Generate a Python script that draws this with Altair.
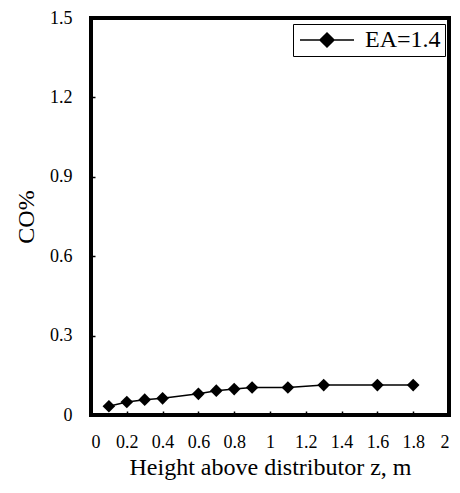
import altair as alt
import pandas as pd

z = [0.1, 0.2, 0.3, 0.4, 0.6, 0.7, 0.8, 0.9, 1.1, 1.3, 1.6, 1.8]
co = [0.033, 0.049, 0.058, 0.063, 0.080, 0.092, 0.098, 0.104, 0.104, 0.113, 0.113, 0.113]
series = ["EA=1.4"] * len(z)
x_ticks = [0, 0.2, 0.4, 0.6, 0.8, 1.0, 1.2, 1.4, 1.6, 1.8, 2.0]
y_ticks = [0, 0.3, 0.6, 0.9, 1.2, 1.5]

df = pd.DataFrame({"z": z, "co": co, "series": series})
FONT = "Liberation Serif"

# legend symbol: line with a diamond in the middle (unit path)
sym = "M-1,0H1.22M2,-0.78L2.78,0L2,0.78L1.22,0ZM2.78,0H5"

base = alt.Chart(df).encode(
    x=alt.X("z:Q",
            scale=alt.Scale(domain=[0, 2], nice=False, zero=False),
            axis=alt.Axis(values=x_ticks, format="~g", title="Height above distributor z, m",
                          offset=-4, tickSize=4, tickColor="black", tickWidth=1.5,
                          domain=False, grid=False, labelPadding=18,
                          labelFont=FONT, labelFontSize=18, labelColor="black",
                          titleFont=FONT, titleFontSize=24, titleFontWeight="normal",
                          titleColor="black", titleY=63, titleBaseline="alphabetic")),
    y=alt.Y("co:Q",
            scale=alt.Scale(domain=[0, 1.5], nice=False, zero=False),
            axis=alt.Axis(values=y_ticks, format="~g", title="CO%",
                          offset=-4, tickSize=4, tickColor="black", tickWidth=1.5,
                          domain=False, grid=False, labelPadding=19,
                          labelFont=FONT, labelFontSize=18, labelColor="black",
                          titleFont=FONT, titleFontSize=24, titleFontWeight="normal",
                          titleColor="black", titleX=-62, titleY=198.5,
                          titleBaseline="alphabetic", titleAlign="center", titleAngle=270)),
    color=alt.Color("series:N", scale=alt.Scale(range=["black"]),
                    legend=alt.Legend(title=None, orient="none", legendX=202, legendY=6,
                                      strokeColor="black", fillColor="white", padding=4,
                                      cornerRadius=0,
                                      symbolType=sym, symbolSize=324,
                                      symbolFillColor="black", symbolStrokeColor="black",
                                      symbolStrokeWidth=1.5, labelOffset=44,
                                      labelFont=FONT, labelFontSize=24, labelColor="black")),
)

line = base.mark_line(strokeWidth=1.5)
pts = base.mark_point(shape="diamond", filled=True, size=160, opacity=1)

chart = alt.layer(line, pts).properties(
    width=358, height=397,
    autosize=alt.AutoSizeParams(type="none"),
    padding={"left": 83, "top": 10, "right": 3, "bottom": 65},
    background="white",
).configure_view(stroke="black", strokeWidth=4)

chart.save("out.html", embed_options={"renderer": "svg", "actions": False})
